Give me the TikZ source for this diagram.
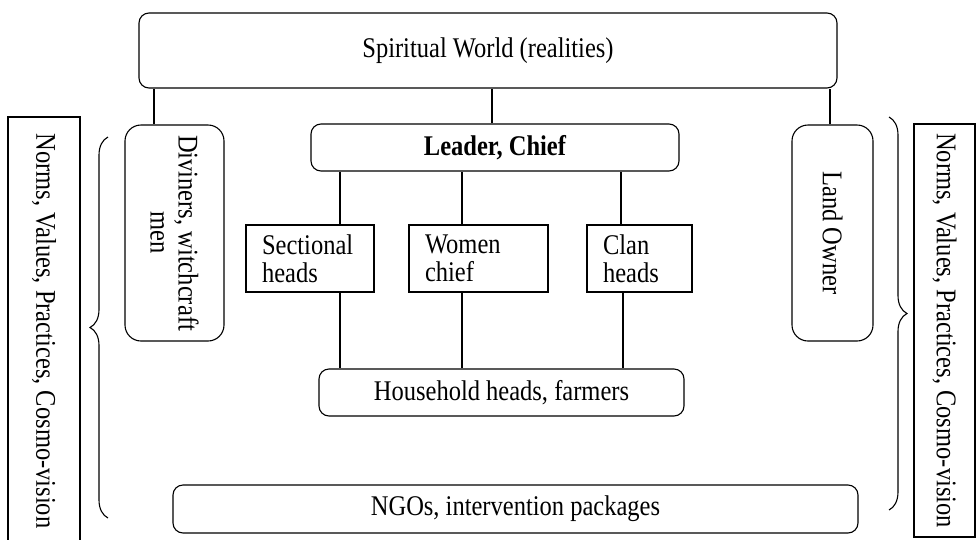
\documentclass[tikz,border=0pt]{standalone}
\usepackage{fontspec}
\setmainfont{Liberation Serif}[FakeStretch=0.86]
\usetikzlibrary{decorations.pathreplacing}

\begin{document}
\begin{tikzpicture}[
  x=1pt, y=-1pt,
  every node/.style={font=\fontsize{28.5}{28}\selectfont},
  world/.style={rectangle, rounded corners=10pt, draw, line width=1.1pt, align=center},
  actor/.style={rectangle, rounded corners=16pt, draw, line width=1.1pt, rotate=-90, align=center, minimum width=216pt},
  unit/.style={rectangle, draw, line width=1.1pt, align=left, inner xsep=16pt, minimum height=67pt},
  frame/.style={rectangle, draw, line width=1.1pt, rotate=-90, inner sep=0pt},
  link/.style={line width=1.1pt},
  curly/.style={line width=1.1pt, decorate, decoration={brace, amplitude=18pt}}
]
\useasboundingbox (0,0) rectangle (978,539);

% -------------------------
% SPIRITUAL WORLD
% -------------------------
\node[world, minimum width=698pt, minimum height=75pt] (spirit) at (488,50.5) {Spiritual World (realities)};

% -------------------------
% LEADERSHIP
% -------------------------
\node[actor, minimum height=99pt] (divin) at (174.5,233) {Diviners, witchcraft\\men};
\node[world, minimum width=368pt, minimum height=47pt] (leader) at (495,147.5) {\bfseries Leader, Chief};
\node[actor, minimum height=81pt] (landOwner) at (832.5,233) {Land Owner};

\node[unit, text width=96pt] (sectional) at (310,258.5) {Sectional\\heads};
\node[unit, text width=107pt] (women) at (478.5,258.5) {Women\\chief};
\node[unit, text width=73pt] (clan) at (639.5,258.5) {Clan\\heads};

\node[world, minimum width=365pt, minimum height=47pt] (household) at (501.5,392.5) {Household heads, farmers};

% Links from the spiritual world
\draw[link] ([xshift=-20.5]divin.west) -- ([xshift=-20.5]divin.west |- spirit.south);
\draw[link] ([xshift=-3]leader.north) -- ([xshift=-3]leader.north |- spirit.south);
\draw[link] ([xshift=-2.5]landOwner.west) -- ([xshift=-2.5]landOwner.west |- spirit.south);

% Links through the chief's lineage
\draw[link] ([xshift=30]sectional.north) -- ([xshift=30]sectional.north |- leader.south);
\draw[link] ([xshift=-16.5]women.north) -- ([xshift=-16.5]women.north |- leader.south);
\draw[link] ([xshift=-18.5]clan.north) -- ([xshift=-18.5]clan.north |- leader.south);

\draw[link] ([xshift=30]sectional.south) -- ([xshift=30]sectional.south |- household.north);
\draw[link] ([xshift=-16.5]women.south) -- ([xshift=-16.5]women.south |- household.north);
\draw[link] ([xshift=-16.5]clan.south) -- ([xshift=-16.5]clan.south |- household.north);

% -------------------------
% OUTSIDE INTERVENTIONS
% -------------------------
\node[world, minimum width=685pt, minimum height=48pt] (ngo) at (515.5,509) {NGOs, intervention packages};

% -------------------------
% NORMS FRAMES
% -------------------------
\node[frame, minimum width=428pt, minimum height=72pt] (normsL) at (44,331) {Norms, Values, Practices, Cosmo-vision};
\node[frame, minimum width=413pt, minimum height=61pt] (normsR) at (944.5,330.5) {Norms, Values, Practices, Cosmo-vision};

\draw[curly] (108,518) -- (108,137);
\draw[curly] (889,117) -- (889,510);

\end{tikzpicture}
\end{document}
